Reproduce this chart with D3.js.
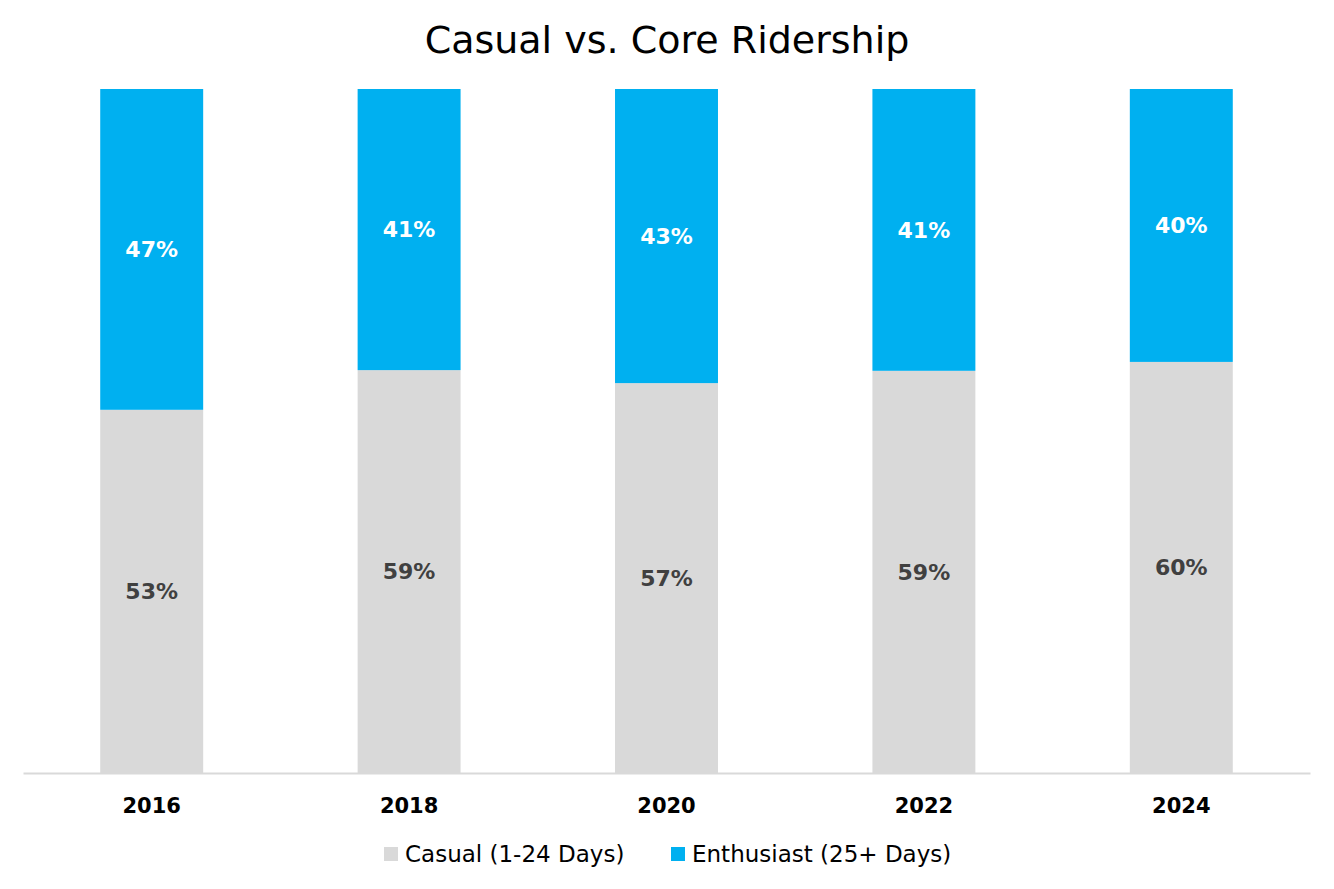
<!DOCTYPE html>
<html><head><meta charset="utf-8">
<script src="https://cdn.jsdelivr.net/npm/d3@7"></script>
<style>body{margin:0;background:#fff;} svg{display:block;font-family:"DejaVu Sans",sans-serif;}</style>
</head><body><svg id="c" width="1334" height="889"></svg>
<script>
const years = ["2016","2018","2020","2022","2024"];
const casual = [53.1, 58.9, 57.0, 58.8, 60.1];
const enthusiast = [46.9, 41.1, 43.0, 41.2, 39.9];
const seriesNames = ["Casual (1-24 Days)", "Enthusiast (25+ Days)"];
const colors = ["#D9D9D9", "#00B0F0"];

const svg = d3.select("#c");
const W = 1334, H = 889;
const m = {left: 23, right: 24, top: 89, bottom: 116};
const x = d3.scaleBand().domain(years).range([m.left, W - m.right]).paddingInner(0.6).paddingOuter(0.3);
const y = d3.scaleLinear().domain([0, 100]).range([H - m.bottom, m.top]);

const rows = years.map((yr, i) => ({year: yr, casual: casual[i], enthusiast: enthusiast[i]}));
const stack = d3.stack().keys(["casual", "enthusiast"])(rows);

const g = svg.append("g");
stack.forEach((s, si) => {
  g.selectAll(null).data(s).enter().append("rect")
    .attr("x", d => x(d.data.year))
    .attr("width", x.bandwidth())
    .attr("y", d => y(d[1]))
    .attr("height", d => y(d[0]) - y(d[1]))
    .attr("fill", colors[si]);
  g.selectAll(null).data(s).enter().append("text")
    .attr("x", d => x(d.data.year) + x.bandwidth() / 2)
    .attr("y", d => (y(d[0]) + y(d[1])) / 2)
    .attr("dy", "0.35em")
    .attr("text-anchor", "middle")
    .attr("font-size", 22)
    .attr("font-weight", "bold")
    .attr("fill", si === 0 ? "#404040" : "#ffffff")
    .text(d => Math.round(d[1] - d[0]) + "%");
});

// axis
const axis = svg.append("g").attr("transform", `translate(0,${H - m.bottom})`)
  .call(d3.axisBottom(x).tickSize(0).tickPadding(25));
axis.select(".domain").attr("stroke", "#D9D9D9").attr("stroke-width", 2);
axis.selectAll("text").attr("font-size", 21).attr("font-weight", "bold").attr("fill", "#000")
  .attr("font-family", "'DejaVu Sans',sans-serif");

// title
svg.append("text").attr("x", 667).attr("y", 53).attr("text-anchor", "middle")
  .attr("font-size", 38).attr("fill", "#000").text("Casual vs. Core Ridership");

// legend
const leg = svg.append("g");
const legX = [384, 671];
seriesNames.forEach((n, i) => {
  leg.append("rect").attr("x", legX[i]).attr("y", 847).attr("width", 14).attr("height", 14).attr("fill", colors[i]);
  leg.append("text").attr("x", legX[i] + 21).attr("y", 854).attr("dy", "0.35em")
    .attr("font-size", 23).attr("fill", "#000").text(n);
});
</script></body></html>
